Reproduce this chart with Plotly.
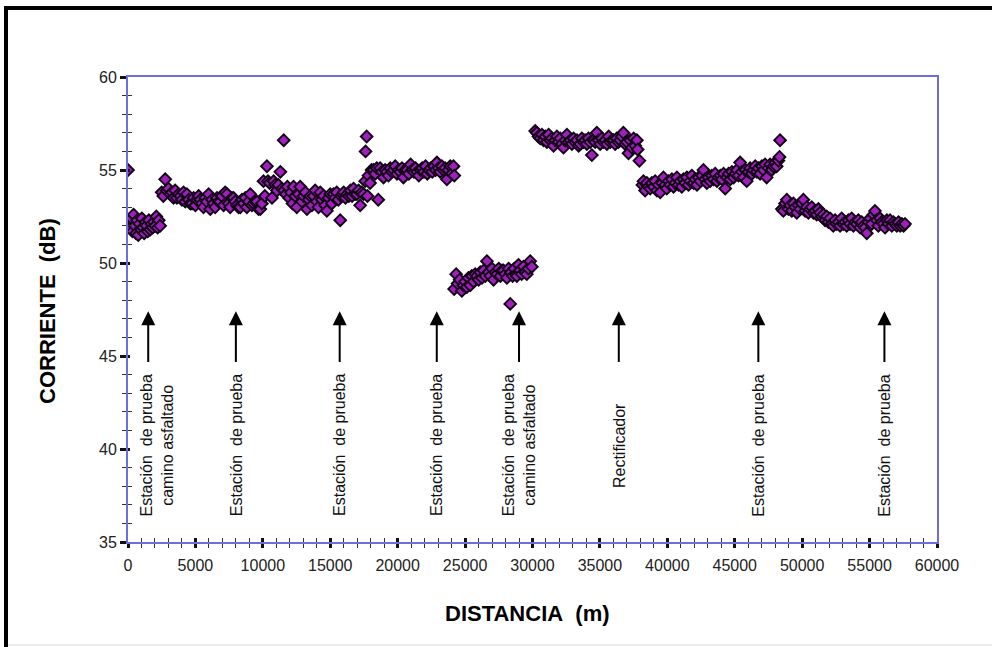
import plotly.graph_objects as go

# ---------------- data (distance m, current dB) per measured section ----------------
sec1 = [(0, 55.0), (60, 52.2), (150, 51.9), (250, 52.4), (330, 51.7), (420, 52.6), (500, 52.0),
        (600, 51.6), (680, 52.3), (760, 51.5), (850, 52.1), (950, 51.8), (1030, 52.4), (1120, 51.9),
        (1200, 51.6), (1300, 52.2), (1380, 52.0), (1470, 51.7), (1550, 52.3), (1650, 51.8),
        (1740, 52.1), (1830, 51.9), (1920, 52.2), (2020, 52.0), (2100, 52.5), (2200, 51.9),
        (2280, 52.3), (2380, 52.0)]

sec2 = [(2500, 53.8), (2620, 53.6), (2760, 54.5), (2880, 53.9), (3000, 54.0), (3140, 53.7),
        (3260, 53.8), (3380, 53.5), (3500, 53.9), (3630, 53.5), (3750, 53.7), (3880, 53.6),
        (4000, 53.4), (4120, 53.8), (4250, 53.3), (4370, 53.7), (4500, 53.4), (4620, 53.2),
        (4750, 53.2), (4870, 53.5), (5000, 53.1), (5120, 53.4), (5240, 53.6), (5360, 53.4),
        (5480, 53.2), (5600, 53.0), (5730, 53.5), (5850, 53.3), (5980, 53.7), (6100, 52.9),
        (6230, 53.4), (6350, 53.2), (6470, 53.0), (6600, 53.5), (6720, 53.3), (6840, 53.3),
        (6960, 53.6), (7090, 53.1), (7210, 53.8), (7340, 53.7), (7460, 53.2), (7580, 53.0),
        (7710, 53.5), (7830, 53.5), (7950, 53.3), (8080, 53.1), (8200, 53.0), (8330, 53.0),
        (8450, 53.4), (8570, 53.2), (8700, 53.5), (8820, 53.0), (8950, 53.3), (9070, 53.7),
        (9190, 53.1), (9310, 53.2), (9440, 53.3), (9560, 53.3), (9680, 52.9), (9810, 52.9),
        (9930, 53.2)]

sec3 = [(10050, 54.4), (10150, 53.6), (10300, 55.2), (10380, 54.4), (10500, 54.3), (10680, 53.5),
        (10800, 54.4), (10920, 54.2), (11050, 53.9), (11150, 54.2), (11300, 54.9), (11420, 54.0),
        (11550, 56.6), (11560, 53.9), (11700, 53.7), (11820, 54.1), (11950, 53.5), (12080, 53.8),
        (12200, 53.2), (12280, 54.1), (12400, 53.6), (12520, 53.0), (12650, 53.7), (12770, 54.1),
        (12900, 53.3), (13020, 53.6), (13150, 53.8), (13270, 52.9), (13400, 53.4), (13520, 53.6),
        (13640, 53.1), (13760, 53.6), (13880, 53.9), (14000, 53.3), (14130, 53.0), (14260, 53.8),
        (14380, 53.4), (14500, 53.6), (14620, 53.1), (14750, 52.8), (14870, 53.5), (15000, 53.7),
        (15120, 53.2), (15240, 53.7), (15360, 53.5), (15480, 53.8), (15600, 53.4), (15740, 52.3),
        (15800, 53.6), (15920, 53.7), (16000, 53.8), (16130, 53.5), (16250, 53.7), (16380, 53.6),
        (16500, 53.9), (16620, 53.6), (16730, 54.0), (16850, 53.7), (16980, 53.7), (17100, 53.9),
        (17220, 53.1), (17340, 53.8), (17470, 53.7), (17590, 54.4), (17620, 56.0), (17700, 56.8),
        (17760, 53.6), (17840, 54.7)]

sec4 = [(17950, 54.3), (18060, 55.0), (18200, 55.0), (18330, 54.8), (18450, 55.1), (18560, 53.4),
        (18700, 55.1), (18820, 54.9), (18950, 54.6), (19070, 55.0), (19200, 54.9), (19320, 54.7),
        (19450, 55.1), (19570, 54.9), (19700, 55.0), (19820, 55.2), (19950, 54.8), (20070, 55.0),
        (20200, 54.9), (20320, 55.1), (20430, 54.6), (20560, 55.0), (20700, 55.0), (20830, 54.8),
        (20960, 55.3), (21080, 55.0), (21200, 54.9), (21330, 55.1), (21450, 54.9), (21570, 54.7),
        (21700, 55.0), (21820, 55.1), (21950, 54.9), (22070, 55.2), (22200, 54.8), (22320, 55.0),
        (22450, 55.1), (22570, 54.9), (22700, 55.2), (22820, 55.0), (22910, 55.4), (23030, 55.1),
        (23150, 54.9), (23280, 55.2), (23400, 55.0), (23520, 55.1), (23650, 54.5), (23770, 55.0),
        (23900, 55.2), (24020, 54.8), (24140, 55.2), (24200, 54.7)]

sec5 = [(24190, 48.6), (24340, 49.4), (24450, 48.9), (24600, 49.1), (24760, 48.5), (24880, 48.8),
        (25000, 49.0), (25130, 48.7), (25250, 49.2), (25380, 48.8), (25500, 49.3), (25630, 49.0),
        (25750, 49.4), (25880, 49.3), (26000, 49.1), (26130, 49.5), (26250, 49.2), (26380, 49.6),
        (26500, 49.3), (26620, 50.1), (26750, 49.5), (26870, 49.3), (27000, 49.7), (27110, 49.1),
        (27250, 49.5), (27370, 49.4), (27500, 49.7), (27620, 49.3), (27750, 49.6), (27850, 49.6),
        (27980, 49.4), (28100, 49.2), (28230, 49.7), (28350, 47.8), (28400, 49.5), (28530, 49.3),
        (28650, 49.7), (28780, 49.4), (28840, 49.3), (28960, 49.9), (29080, 49.6), (29200, 49.4),
        (29330, 49.8), (29460, 49.5), (29580, 49.4), (29700, 49.7), (29830, 50.1), (29950, 49.8)]

sec6 = [(30200, 57.1), (30320, 57.0), (30450, 56.8), (30570, 56.7), (30700, 56.9), (30820, 56.6),
        (30950, 56.8), (31070, 56.5), (31200, 56.9), (31320, 56.6), (31440, 56.7), (31560, 56.3),
        (31690, 56.6), (31810, 56.8), (31930, 56.5), (32060, 56.7), (32180, 56.4), (32300, 56.2),
        (32430, 56.6), (32550, 56.9), (32670, 56.5), (32800, 56.6), (32920, 56.4), (33050, 56.7),
        (33170, 56.5), (33300, 56.6), (33420, 56.3), (33530, 56.4), (33660, 56.7), (33780, 56.5),
        (33900, 56.6), (34030, 56.4), (34150, 56.7), (34280, 56.5), (34400, 55.8), (34530, 56.6),
        (34650, 56.5), (34770, 57.0), (34900, 56.6), (35020, 56.4), (35150, 56.7), (35270, 56.5),
        (35400, 56.6), (35520, 56.4), (35650, 56.8), (35770, 56.5), (35900, 56.6), (36000, 56.6),
        (36130, 56.4), (36250, 56.7), (36370, 56.5), (36500, 56.6), (36620, 56.8), (36740, 57.0),
        (36870, 56.4), (37000, 56.5), (37120, 55.9), (37250, 56.6), (37370, 56.2), (37500, 56.7),
        (37620, 56.3), (37740, 56.6), (37800, 56.1), (37930, 55.5)]

sec7 = [(38150, 54.2), (38230, 54.4), (38350, 53.9), (38480, 54.3), (38600, 54.1), (38730, 54.0),
        (38850, 54.3), (38980, 54.1), (39100, 54.4), (39230, 53.9), (39350, 54.2), (39470, 53.8),
        (39600, 54.3), (39710, 54.6), (39840, 54.2), (39960, 54.0), (40090, 54.4), (40210, 54.2),
        (40340, 54.5), (40460, 54.1), (40590, 54.3), (40710, 54.6), (40830, 54.2), (40960, 54.4),
        (41070, 54.1), (41200, 54.5), (41320, 54.3), (41450, 54.6), (41570, 54.2), (41700, 54.4),
        (41820, 54.7), (41950, 54.3), (42070, 54.5), (42200, 54.2), (42320, 54.6), (42450, 54.4),
        (42580, 54.7), (42680, 55.0), (42800, 54.5), (42930, 54.3), (43050, 54.6), (43180, 54.4),
        (43300, 54.7), (43430, 54.5), (43550, 54.8), (43680, 54.4), (43800, 54.6), (43930, 54.7),
        (44050, 54.5), (44170, 54.8), (44290, 54.0), (44420, 54.6), (44540, 54.8), (44670, 54.5),
        (44790, 54.9), (44920, 54.6), (45040, 54.8), (45160, 55.0), (45280, 54.7), (45400, 55.4),
        (45530, 54.9), (45650, 54.6), (45780, 55.0), (45890, 54.4), (46020, 54.9), (46140, 55.1),
        (46270, 54.8), (46390, 55.0), (46520, 55.2), (46640, 54.9), (46760, 55.1), (46880, 54.8),
        (47010, 55.2), (47130, 55.0), (47250, 55.3), (47370, 54.6), (47500, 55.1), (47620, 55.3),
        (47740, 55.0), (47870, 55.2), (47990, 55.4), (48110, 55.2), (48240, 55.5), (48320, 55.7),
        (48360, 56.6)]

sec8 = [(48500, 52.9), (48610, 52.8), (48730, 53.2), (48860, 53.4), (48980, 52.9), (49100, 53.1),
        (49230, 52.8), (49350, 53.2), (49480, 53.0), (49600, 52.7), (49720, 53.1), (49850, 52.9),
        (49970, 53.2), (50090, 53.4), (50220, 52.8), (50340, 53.0), (50460, 52.7), (50590, 52.9),
        (50710, 53.0), (50840, 52.7), (50960, 52.8), (51080, 52.6), (51200, 52.9), (51330, 52.7),
        (51450, 52.5), (51580, 52.6), (51700, 52.3), (51820, 52.5), (51950, 52.2), (52070, 52.4),
        (52190, 52.1), (52310, 52.0), (52440, 52.3), (52560, 52.1), (52690, 52.2), (52810, 52.0),
        (52930, 52.4), (53060, 52.1), (53180, 52.2), (53300, 52.0), (53430, 52.3), (53550, 52.1),
        (53670, 52.4), (53800, 52.0), (53920, 52.2), (54050, 52.1), (54170, 52.3), (54300, 51.9),
        (54420, 52.2), (54550, 52.0), (54670, 51.9), (54790, 51.6), (54920, 52.2), (55040, 52.4),
        (55160, 52.1), (55290, 52.6), (55400, 52.8), (55530, 52.3), (55650, 52.0), (55780, 52.4),
        (55900, 52.2), (56030, 52.1), (56150, 51.9), (56280, 52.3), (56400, 52.1), (56520, 52.3),
        (56650, 52.0), (56770, 52.2), (56900, 52.1), (57020, 52.0), (57150, 52.2), (57270, 52.0),
        (57400, 52.1), (57520, 52.0), (57630, 52.1)]

# marked installations along the line
station_x = [1500, 8000, 15700, 22900, 29000, 36400, 46750, 56100]
station_labels = [
    "Estación\u00a0\u00a0de prueba<br>camino asfaltado",
    "Estación\u00a0\u00a0de prueba",
    "Estación\u00a0\u00a0de prueba",
    "Estación\u00a0\u00a0de prueba",
    "Estación\u00a0\u00a0de prueba<br>camino asfaltado",
    "Rectificador",
    "Estación\u00a0\u00a0de prueba",
    "Estación\u00a0\u00a0de prueba",
]
label_shift_px = [9, 0, 0, 0, 0, 0, 0, 0]
arrow_tip_db = 47.4
arrow_base_db = 44.6
label_center_db = 40.2

x_range = [0, 60000]
y_range = [35, 60]

# ---------------- figure ----------------
W, H = 992, 647
ML, MR, MT, MB = 128, 55, 77, 105
PW, PH = W - ML - MR, H - MT - MB


def px(xp):
    return (xp - ML) / PW


def py(yp):
    return (H - MB - yp) / PH


sections = [sec1, sec2, sec3, sec4, sec5, sec6, sec7, sec8]
dist = [p[0] for s in sections for p in s]
curr = [p[1] for s in sections for p in s]

FONT = "Liberation Sans, Arial, Helvetica, sans-serif"
AXIS_BLUE = "#6d6de0"

fig = go.Figure()
fig.add_trace(go.Scatter(
    x=dist, y=curr, mode="markers",
    marker=dict(symbol="diamond", size=9, color="#a01fbd",
                line=dict(color="#140218", width=1.9)),
    showlegend=False, hoverinfo="x+y",
))
# invisible trace on overlay axes (inside tick marks -> crossing ticks)
fig.add_trace(go.Scatter(x=[None], y=[None], xaxis="x2", yaxis="y2",
                         showlegend=False, hoverinfo="skip"))

common_x = dict(range=x_range, showgrid=False, zeroline=False)
common_y = dict(range=y_range, showgrid=False, zeroline=False)

fig.update_layout(
    width=W, height=H, autosize=False,
    margin=dict(l=ML, r=MR, t=MT, b=MB),
    paper_bgcolor="white", plot_bgcolor="white",
    font=dict(family=FONT, color="#1a1a1a"),
    xaxis=dict(**common_x, tickmode="linear", tick0=0, dtick=5000, tickformat="d",
               showline=True, linecolor=AXIS_BLUE, linewidth=2, mirror=True,
               ticks="outside", ticklen=4, tickwidth=3, tickcolor="#111",
               minor=dict(ticks="outside", dtick=1000, ticklen=4, tickwidth=1.2, tickcolor="#333"),
               tickfont=dict(size=16, family=FONT, color="#222"), ticklabelstandoff=4),
    yaxis=dict(**common_y, tickmode="linear", tick0=35, dtick=5,
               showline=True, linecolor=AXIS_BLUE, linewidth=2, mirror=True,
               ticks="outside", ticklen=6, tickwidth=2.5, tickcolor="#111",
               minor=dict(ticks="outside", dtick=1, ticklen=4, tickwidth=1.2, tickcolor="#333"),
               tickfont=dict(size=16, family=FONT, color="#222")),
    xaxis2=dict(**common_x, overlaying="x", anchor="y2", showticklabels=False, showline=False,
                tickmode="linear", tick0=0, dtick=5000,
                ticks="inside", ticklen=4, tickwidth=3, tickcolor="#111",
                minor=dict(ticks="inside", dtick=1000, ticklen=4, tickwidth=1.2, tickcolor="#333")),
    yaxis2=dict(**common_y, overlaying="y", anchor="x2", showticklabels=False, showline=False,
                tickmode="linear", tick0=35, dtick=5,
                ticks="inside", ticklen=2, tickwidth=2.5, tickcolor="#111",
                minor=dict(ticks="inside", dtick=1, ticklen=4, tickwidth=1.2, tickcolor="#333")),
)

annotations = []
for sx, lab, sh in zip(station_x, station_labels, label_shift_px):
    annotations.append(dict(
        x=sx, y=arrow_tip_db, ax=sx, ay=arrow_base_db, axref="x", ayref="y",
        xref="x", yref="y", text="", showarrow=True,
        arrowhead=2, arrowsize=1.4, arrowwidth=2, arrowcolor="black", standoff=0,
    ))
    annotations.append(dict(
        x=sx, y=label_center_db, xref="x", yref="y", xshift=sh,
        text=lab, showarrow=False, textangle=-90,
        xanchor="center", yanchor="middle", align="center",
        font=dict(size=16, family=FONT, color="#111"),
    ))

# axis titles
annotations.append(dict(
    x=px(47), y=py(311), xref="paper", yref="paper",
    text="<b>CORRIENTE\u00a0\u00a0(dB)</b>", showarrow=False, textangle=-90,
    xanchor="center", yanchor="middle", font=dict(size=22, family=FONT, color="black"),
))
annotations.append(dict(
    x=px(527), y=py(613), xref="paper", yref="paper",
    text="<b>DISTANCIA\u00a0\u00a0(m)</b>", showarrow=False,
    xanchor="center", yanchor="middle", font=dict(size=22, family=FONT, color="black"),
))
fig.update_layout(annotations=annotations)

# outer picture frame
fig.update_layout(shapes=[
    dict(type="line", xref="paper", yref="paper", x0=px(4), x1=px(992), y0=py(8), y1=py(8),
         line=dict(color="black", width=4)),
    dict(type="line", xref="paper", yref="paper", x0=px(6), x1=px(6), y0=py(6), y1=py(647),
         line=dict(color="black", width=4)),
    dict(type="line", xref="paper", yref="paper", x0=px(8), x1=px(992), y0=py(645), y1=py(645),
         line=dict(color="#dcdcdc", width=1)),
])

fig.write_html("out.html",
               config={"displayModeBar": False},
               post_script="document.body.style.margin='0px';document.body.style.overflow='hidden';")
